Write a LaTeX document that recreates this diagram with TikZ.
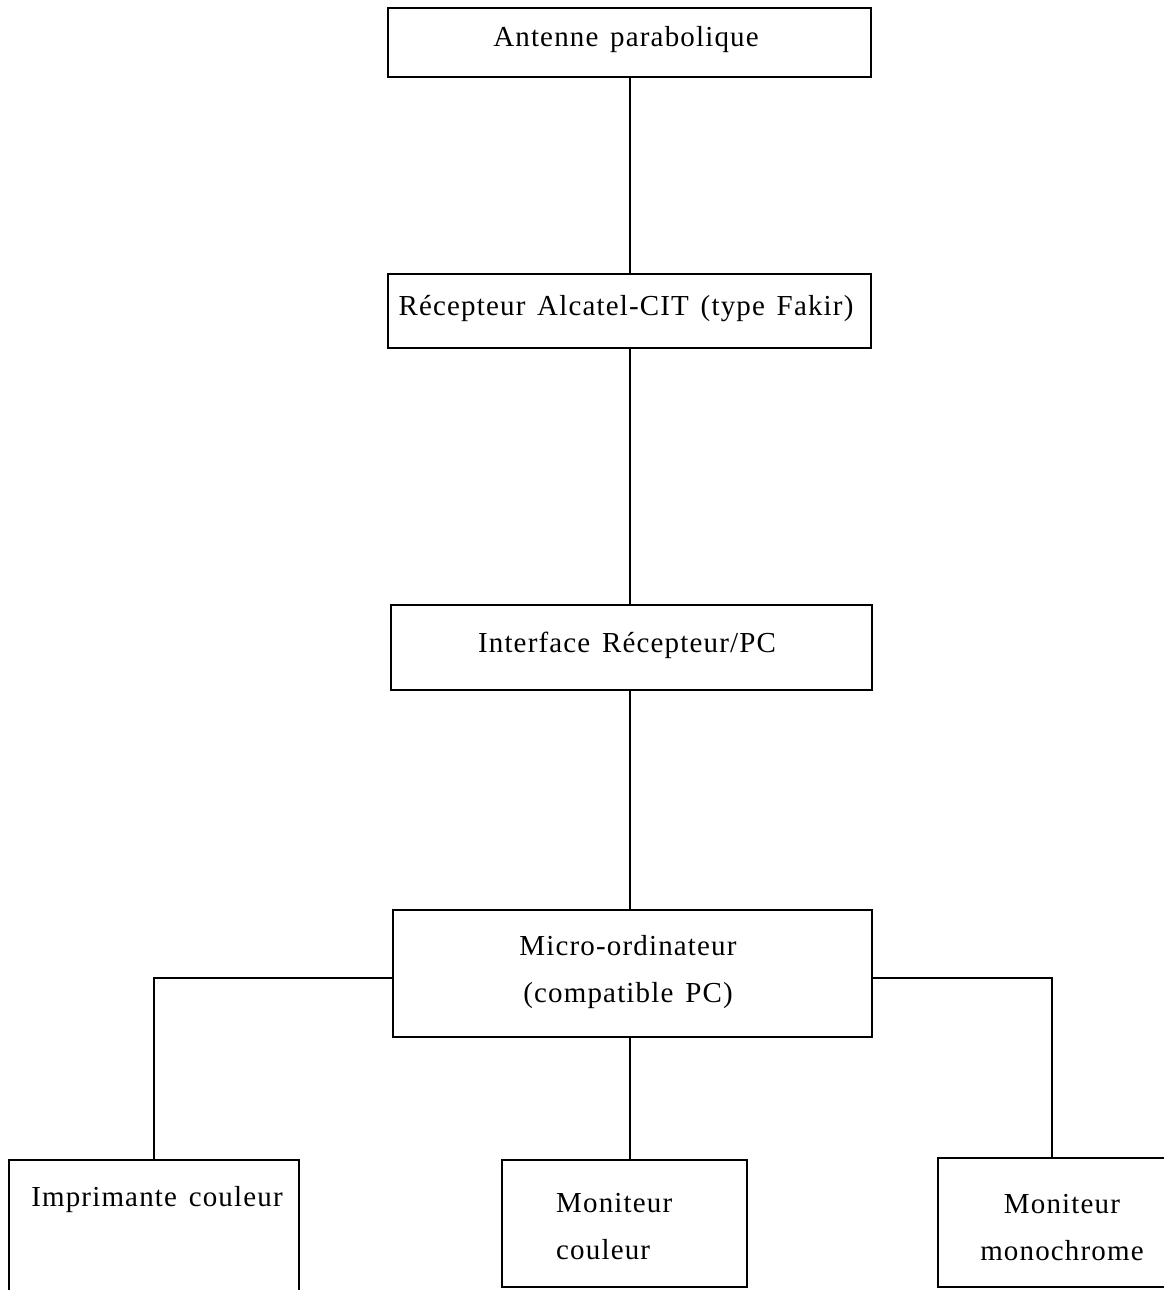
\documentclass[tikz,border=0pt]{standalone}
\usepackage{fontspec}
\setmainfont{Liberation Serif}[LetterSpace=4,WordSpace=1.4]
\begin{document}
\begin{tikzpicture}[x=1pt,y=-1pt,
  box/.style={draw,line width=2.6pt,inner sep=0pt},
  lbl/.style={font=\fontsize{29}{47}\selectfont,inner sep=0pt,align=center},
  wire/.style={line width=2.4pt}]
\useasboundingbox (0,0) rectangle (1163,1290);
\node[box,minimum width=483,minimum height=69] (ant) at (629.5,42.5) {};
\node[box,minimum width=483,minimum height=74] (rec) at (629.5,311) {};
\node[box,minimum width=481,minimum height=85] (int) at (631.5,647.5) {};
\node[box,minimum width=479,minimum height=127] (mic) at (632.5,973.5) {};
\node[box,minimum width=290,minimum height=132] (imp) at (154,1226) {};
\node[box,minimum width=245,minimum height=127] (mon) at (624.5,1223.5) {};
\node[box,minimum width=228,minimum height=129] (mono) at (1052,1222.5) {};
\node[lbl] (tant) at (626,40) {Antenne parabolique};
\node[lbl] (trec) at (626,309) {Récepteur Alcatel-CIT (type Fakir)};
\node[lbl] (tint) at (627,645) {Interface Récepteur/PC};
\node[lbl] (tmic) at (628,972) {Micro-ordinateur\\(compatible PC)};
\node[lbl] (timp) at (157,1200) {Imprimante couleur};
\node[lbl,align=left,anchor=west] (tmon) at (556,1227) {Moniteur\\couleur};
\node[lbl] (tmono) at (1062,1228) {Moniteur\\monochrome};
\draw[wire] (ant.south -| 630,0) -- (rec.north -| 630,0);
\draw[wire] (rec.south -| 630,0) -- (int.north -| 630,0);
\draw[wire] (int.south -| 630,0) -- (mic.north -| 630,0);
\draw[wire] (mic.south -| 630,0) -- (mon.north -| 630,0);
\draw[wire] (mic.west |- 0,978) -| (imp.north);
\draw[wire] (mic.east |- 0,978) -| (mono.north);
\end{tikzpicture}
\end{document}
